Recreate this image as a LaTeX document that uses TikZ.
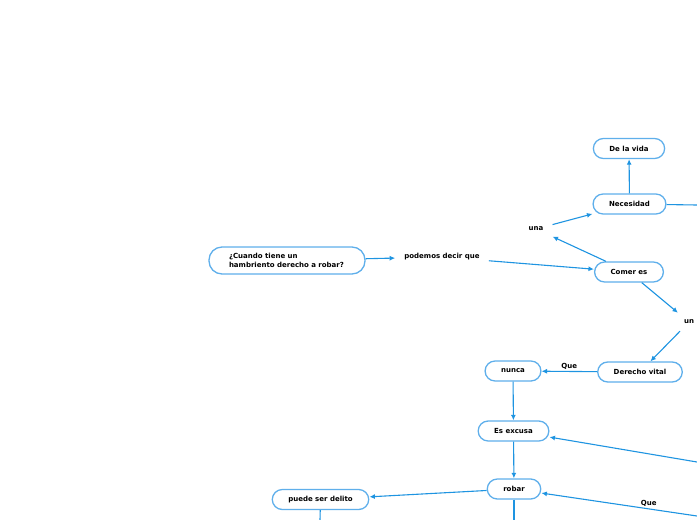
\documentclass[tikz,border=0pt]{standalone}
\usepackage{fontspec}
\setmainfont{DejaVu Sans}
\usetikzlibrary{arrows.meta}
\definecolor{boxline}{RGB}{95,175,235}
\definecolor{linkcol}{RGB}{30,148,225}
\tikzset{
  topic/.style={rectangle,rounded corners=10pt,draw=boxline,line width=1.3pt,
                fill=white,minimum height=20pt,inner xsep=16pt,
                font=\fontsize{7}{9.5}\selectfont\bfseries},
  question/.style={topic,rounded corners=13pt,minimum height=27pt,
                inner xsep=20pt,text width=116pt,align=left},
  word/.style={inner xsep=9pt,inner ysep=7pt,
                font=\fontsize{7}{9.5}\selectfont\bfseries},
  link/.style={-{Latex[length=5.5pt,width=5pt]},draw=linkcol,line width=1.1pt},
  tail/.style={draw=linkcol,line width=1.1pt},
}
\begin{document}
\begin{tikzpicture}[x=1pt,y=-1pt]
  \useasboundingbox (0,0) rectangle (697,520);
  % ---------------- topics ----------------
  \node[question] (quest)    at (287,260.5) {¿Cuando tiene un\\hambriento derecho a robar?};
  \node[topic] (comerEs)     at (629,272)   {Comer es};
  \node[topic] (necesidad)   at (629.5,204) {Necesidad};
  \node[topic] (deLaVida)    at (629,148.5) {De la vida};
  \node[topic] (derechoVital) at (640,372)  {Derecho vital};
  \node[topic] (nunca)       at (513,371)   {nunca};
  \node[topic] (esExcusa)    at (513.5,431) {Es excusa};
  \node[topic] (robar)       at (514,489)   {robar};
  \node[topic] (delito)      at (320.5,499.5) {puede ser delito};
  % ---------------- floating words ----------------
  \node[word] (podemos)      at (442,257)   {podemos decir que};
  \node[word] (una)          at (536,229)   {una};
  \node[word] (un)           at (689,322)   {un};
  % ---------------- ends beyond the frame ----------------
  \coordinate (necesidadOut) at (697,205);
  \coordinate (excusaIn)     at (697,462);
  \coordinate (robarIn)      at (697,516);
  \coordinate (robarOut)     at (514,520);
  \coordinate (delitoOut)    at (320,520);
  % ---------------- links ----------------
  \draw[link] (quest) -- (podemos);
  \draw[link] (podemos) -- (comerEs);
  \draw[link] (comerEs) -- (una);
  \draw[link] (una) -- (necesidad);
  \draw[link] (necesidad) -- (deLaVida);
  \draw[link] (comerEs) -- (un);
  \draw[link] (un) -- (derechoVital);
  \draw[link] (derechoVital) -- node[word,above,inner ysep=1pt]{Que} (nunca);
  \draw[link] (nunca) -- (esExcusa);
  \draw[link] (esExcusa) -- (robar);
  \draw[link] (robar) -- (delito);
  \draw[link] (excusaIn) -- (esExcusa);
  \draw[link] (robarIn) -- node[word,above,pos=.31,inner ysep=2pt]{Que} (robar);
  \draw[tail] (necesidad) -- (necesidadOut);
  \draw[tail] (robar) -- (robarOut);
  \draw[tail] (delito) -- (delitoOut);
\end{tikzpicture}
\end{document}
